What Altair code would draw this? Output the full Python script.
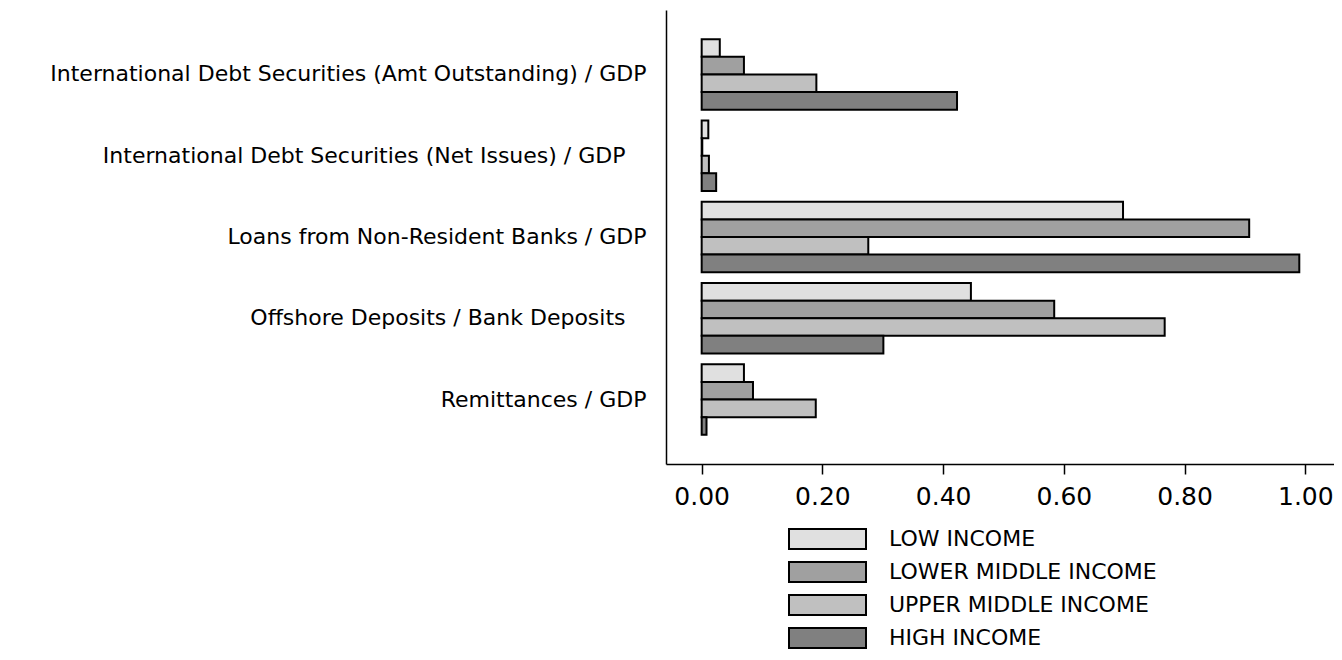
import altair as alt
import pandas as pd

TRAIL = "\u00a0\u00a0\u00a0\u200b"
categories = [
    "International Debt Securities (Amt Outstanding) / GDP",
    "International Debt Securities (Net Issues) / GDP" + TRAIL,
    "Loans from Non-Resident Banks / GDP",
    "Offshore Deposits / Bank Deposits" + TRAIL,
    "Remittances / GDP",
]
groups = ["LOW INCOME", "LOWER MIDDLE INCOME", "UPPER MIDDLE INCOME", "HIGH INCOME"]
low_income = [0.030, 0.011, 0.698, 0.446, 0.070]
lower_middle_income = [0.070, 0.001, 0.907, 0.584, 0.085]
upper_middle_income = [0.190, 0.012, 0.276, 0.767, 0.189]
high_income = [0.423, 0.024, 0.990, 0.301, 0.008]
colors = ["#e0e0e0", "#a0a0a0", "#c0c0c0", "#808080"]
x_ticks = [0.0, 0.2, 0.4, 0.6, 0.8, 1.0]

series = [low_income, lower_middle_income, upper_middle_income, high_income]
rows = []
for g, vals in zip(groups, series):
    for c, v in zip(categories, vals):
        rows.append({"category": c, "group": g, "value": v})
df = pd.DataFrame(rows)

FONT = "DejaVu Sans"

chart = (
    alt.Chart(df)
    .mark_bar(stroke="black", strokeWidth=2, opacity=1)
    .encode(
        y=alt.Y(
            "category:N",
            sort=categories,
            scale=alt.Scale(paddingInner=0.134, paddingOuter=0.36),
            axis=alt.Axis(
                title=None,
                ticks=False,
                tickSize=0,
                labelPadding=20,
                labelFont=FONT,
                labelFontSize=22,
                labelColor="black",
                labelLimit=1000,
                domainColor="black",
                domainWidth=1.5,
                grid=False,
            ),
        ),
        yOffset=alt.YOffset(
            "group:N",
            sort=groups,
            scale=alt.Scale(domain=groups, paddingInner=0, paddingOuter=0),
        ),
        x=alt.X(
            "value:Q",
            scale=alt.Scale(domain=[-0.0591, 1.0475], nice=False, zero=False),
            axis=alt.Axis(
                title=None,
                values=x_ticks,
                format=".2f",
                tickSize=10,
                tickWidth=1.5,
                tickColor="black",
                labelPadding=10,
                labelFont=FONT,
                labelFontSize=25,
                labelColor="black",
                domainColor="black",
                domainWidth=1.5,
                grid=False,
                labelFlush=False,
            ),
        ),
        color=alt.Color(
            "group:N",
            sort=groups,
            scale=alt.Scale(domain=groups, range=colors),
            legend=alt.Legend(
                title=None,
                orient="none",
                legendX=122,
                legendY=517,
                padding=0,
                symbolType="M-1,-0.26H1V0.26H-1Z",
                symbolSize=5929,
                symbolStrokeColor="black",
                symbolStrokeWidth=2,
                symbolOpacity=1,
                clipHeight=24,
                rowPadding=9,
                labelOffset=22,
                labelFont=FONT,
                labelFontSize=22,
                labelColor="black",
                labelLimit=500,
            ),
        ),
    )
    .properties(
        width=668,
        height=454,
        background="white",
        autosize=alt.AutoSizeParams(type="none"),
        padding={"left": 658, "top": 2, "right": 0, "bottom": 185},
    )
    .configure_view(strokeWidth=0, stroke="transparent")
)

chart.save("out.html", embed_options={"renderer": "svg", "actions": False})
